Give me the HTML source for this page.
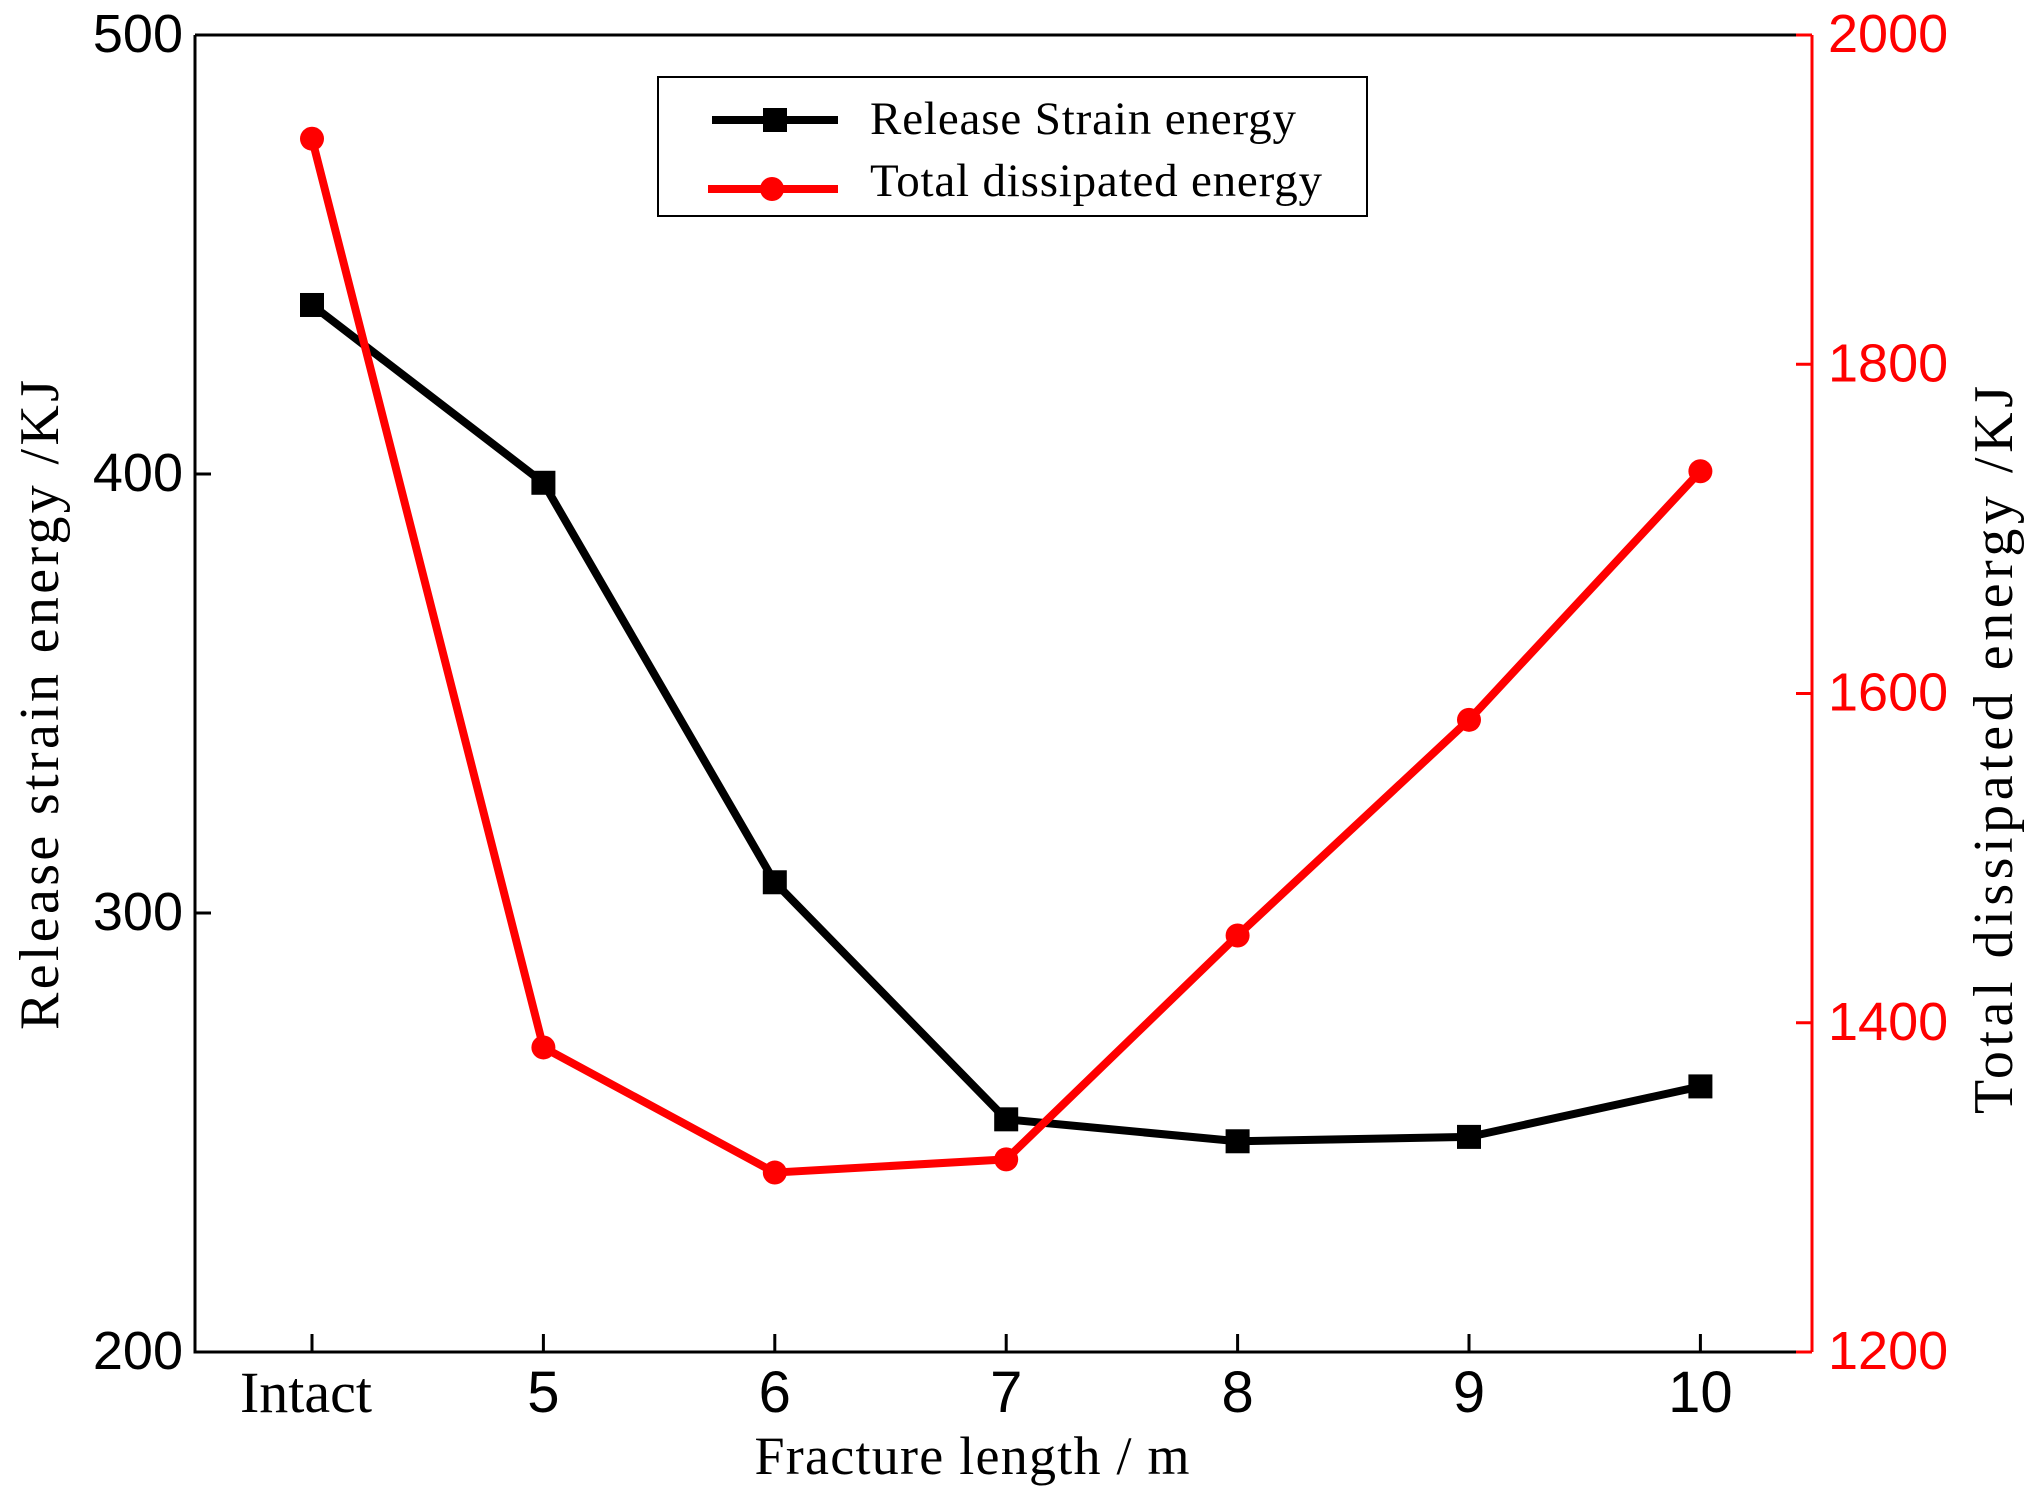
<!DOCTYPE html>
<html><head><meta charset="utf-8"><style>
html,body{margin:0;padding:0;background:#fff}
svg{display:block}
</style></head><body>
<svg id="chart" width="2037" height="1498" viewBox="0 0 2037 1498" xmlns="http://www.w3.org/2000/svg">
<g id="axes"></g>
<g id="series"></g>
<g>
<rect x="658" y="77" width="709" height="139" fill="#fff" stroke="#000" stroke-width="2"/>
<g>
<line x1="712" y1="120" x2="838" y2="120" stroke="#000" stroke-width="8"/>
<rect x="763" y="108" width="24" height="24" fill="#000"/>
<text x="870" y="134" font-family="Liberation Serif, serif" font-size="47" textLength="426">Release Strain energy</text>
</g>
<g>
<line x1="708" y1="189" x2="838" y2="189" stroke="#f00" stroke-width="8"/>
<circle cx="772" cy="189" r="12" fill="#f00"/>
<text x="870" y="196" font-family="Liberation Serif, serif" font-size="47" textLength="452">Total dissipated energy</text>
</g>
</g>
</svg>
<script>
const categories = ["Intact","5","6","7","8","9","10"];
const releaseEnergy = [438.5, 398, 307, 253, 248, 249, 260.5];
const dissipatedEnergy = [1937, 1385, 1309, 1317, 1453, 1584, 1735];
const leftTicks = [200, 300, 400, 500];
const rightTicks = [1200, 1400, 1600, 1800, 2000];

const NS = "http://www.w3.org/2000/svg";
const L = 195, R = 1812, T = 35, B = 1352;
const x = i => 312 + i * 231.4;
const yL = v => B - (v - 200) / 300 * (B - T);
const yR = v => B - (v - 1200) / 800 * (B - T);
function mk(tag, attrs, parent, txt) {
  const e = document.createElementNS(NS, tag);
  for (const k in attrs) e.setAttribute(k, attrs[k]);
  if (txt !== undefined) e.textContent = txt;
  parent.appendChild(e);
  return e;
}
const axes = document.getElementById("axes");
const series = document.getElementById("series");

let e = mk("path", {d:`M${L},${T} H${R} M${L},${T} V${B} H${R}`, stroke:"#000", "stroke-width":3, fill:"none"}, axes);


e = mk("line", {x1:R, y1:T, x2:R, y2:B, stroke:"#f00", "stroke-width":3}, axes);



categories.forEach((c, i) => {
  const t = mk("line", {x1:x(i), y1:B, x2:x(i), y2:B-18, stroke:"#000", "stroke-width":3}, axes);
  
  
  const lab = mk("text", {x:x(i)-(i===0?6:0), y:B+60, "text-anchor":"middle", "font-family": i===0 ? "Liberation Serif, serif" : "Liberation Sans, sans-serif", "font-size": i===0?58:58}, axes, c);
  
  
});
leftTicks.forEach(v => {
  const t = mk("line", {x1:L, y1:yL(v), x2:L+16, y2:yL(v), stroke:"#000", "stroke-width":3}, axes);
  
  
  const lab = mk("text", {x:L-12, y:yL(v)+17, "text-anchor":"end", "font-family":"Liberation Sans, sans-serif", "font-size":54}, axes, v);
  
  
});
rightTicks.forEach(v => {
  const t = mk("line", {x1:R, y1:yR(v), x2:R-16, y2:yR(v), stroke:"#f00", "stroke-width":3}, axes);
  
  
  const lab = mk("text", {x:R+16, y:yR(v)+17, "font-family":"Liberation Sans, sans-serif", "font-size":54, fill:"#f00"}, axes, v);
  
  
});
e = mk("text", {x:972, y:1474, "text-anchor":"middle", "font-family":"Liberation Serif, serif", "font-size":54, textLength:435}, axes, "Fracture length  / m");


e = mk("text", {x:0, y:0, "text-anchor":"middle", "font-family":"Liberation Serif, serif", "font-size":56, textLength:650, transform:"translate(58,705) rotate(-90)"}, axes, "Release strain energy /KJ");


e = mk("text", {x:0, y:0, "text-anchor":"middle", "font-family":"Liberation Serif, serif", "font-size":56, textLength:728, transform:"translate(2012,750) rotate(-90)"}, axes, "Total dissipated energy  /KJ");



e = mk("polyline", {points: releaseEnergy.map((v,i)=>`${x(i)},${yL(v)}`).join(" "), fill:"none", stroke:"#000", "stroke-width":8, "stroke-linejoin":"round"}, series);


e = mk("polyline", {points: dissipatedEnergy.map((v,i)=>`${x(i)},${yR(v)}`).join(" "), fill:"none", stroke:"#f00", "stroke-width":8, "stroke-linejoin":"round"}, series);


releaseEnergy.forEach((v,i) => {
  const m = mk("rect", {x:x(i)-12, y:yL(v)-12, width:24, height:24, fill:"#000"}, series);
  
  
});
dissipatedEnergy.forEach((v,i) => {
  const m = mk("circle", {cx:x(i), cy:yR(v), r:12, fill:"#f00"}, series);
  
  
});
</script>
</body></html>
